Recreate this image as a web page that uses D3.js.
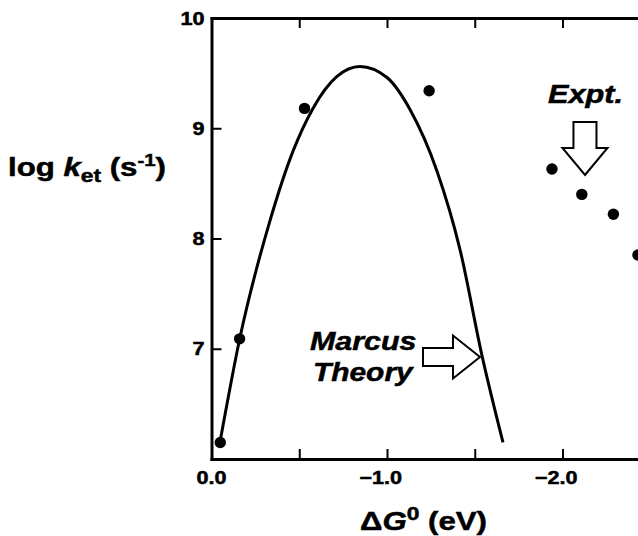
<!DOCTYPE html>
<html lang="en">
<head>
  <meta charset="UTF-8">
  <title>Marcus inverted region</title>
  <script src="https://d3js.org/d3.v7.min.js"></script>
  <style>
    body { margin: 0; background: #fff; }
    svg text { font-family: "Liberation Sans", Arial, sans-serif; font-weight: bold; fill: #000; }
    svg text.heavy { stroke: #000; stroke-width: 0.5px; }
  </style>
</head>
<body>
  <div id="chart"></div>
  <script>
    // measured data points (ΔG0 in eV, log ket)
    const expG   = [-0.05, -0.16, -0.53, -1.24, -1.94, -2.11, -2.29, -2.43];
    const expLog = [6.15, 7.09, 9.18, 9.34, 8.63, 8.40, 8.22, 7.85];

    // Marcus theory curve
    const curveG   = [-0.048, -0.162, -0.333, -0.464, -0.578, -0.715, -0.846,
                      -1.000, -1.131, -1.285, -1.416, -1.541, -1.661];
    const curveLog = [6.15, 7.10, 8.16, 8.79, 9.18, 9.47, 9.56,
                      9.46, 9.17, 8.61, 7.90, 6.94, 6.15];

    const xTicks = [0, -0.5, -1.0, -1.5, -2.0, -2.5];
    const xLabels = [0, -1.0, -2.0];
    const yTicks = [7, 8, 9, 10];

    const W = 638, H = 536;
    const plotL = 211.5, plotT = 18, plotB = 459;

    const svg = d3.select("#chart").append("svg")
      .attr("width", W).attr("height", H);

    const x = d3.scaleLinear().domain([0, -2.6]).range([plotL, plotL + 2.6 * 175.5]);
    const y = d3.scaleLinear().domain([6, 10]).range([plotB, plotT]);
    const sx = 1.2; // glyphs in the picture are stretched sideways

    const fmt = d => d === 0 ? "0.0" : "\u2212" + d3.format(".1f")(-d);

    // bottom axis
    svg.append("g").attr("transform", `translate(0,${plotB})`)
      .call(d3.axisBottom(x).tickValues(xTicks).tickSizeInner(-10).tickSizeOuter(0).tickFormat(""));
    // top axis
    svg.append("g").attr("transform", `translate(0,${plotT})`)
      .call(d3.axisTop(x).tickValues(xTicks).tickSizeInner(-10).tickSizeOuter(0).tickFormat(""));
    // left axis
    svg.append("g").attr("transform", `translate(${plotL},0)`)
      .call(d3.axisLeft(y).tickValues(yTicks).tickSizeInner(-10).tickSizeOuter(0).tickFormat(""));

    svg.selectAll(".domain").attr("stroke", "#000").attr("stroke-width", 3)
      .attr("stroke-linecap", "square");
    svg.selectAll(".tick line").attr("stroke", "#000").attr("stroke-width", 2);

    // x tick labels
    svg.selectAll(".xlab").data(xLabels).enter().append("text")
      .attr("class", "heavy")
      .attr("transform", d => `translate(${x(d) + 15},${plotB + 25}) scale(${sx},1)`)
      .attr("text-anchor", "end")
      .style("font-size", "18px")
      .text(fmt);

    // y tick labels
    svg.selectAll(".ylab").data(yTicks).enter().append("text")
      .attr("class", "heavy")
      .attr("transform", d => `translate(${plotL - 7},${y(d) + 6.5}) scale(${sx},1)`)
      .attr("text-anchor", "end")
      .style("font-size", "18px")
      .text(d => d);

    // curve
    const line = d3.line()
      .x(d => x(d[0])).y(d => y(d[1]))
      .curve(d3.curveMonotoneX);
    svg.append("path")
      .datum(curveG.map((g, i) => [g, curveLog[i]]))
      .attr("d", line)
      .attr("fill", "none").attr("stroke", "#000").attr("stroke-width", 3);

    // points
    svg.selectAll(".pt").data(expG.map((g, i) => [g, expLog[i]])).enter().append("circle")
      .attr("cx", d => x(d[0])).attr("cy", d => y(d[1]))
      .attr("r", 5.7).attr("fill", "#000");

    // axis titles
    const yt = svg.append("text")
      .attr("class", "heavy")
      .attr("transform", `translate(8,176) scale(${sx},1)`)
      .style("font-size", "26px");
    yt.append("tspan").text("log ");
    yt.append("tspan").style("font-style", "italic").text("k");
    yt.append("tspan").attr("dy", 6).style("font-size", "19px").text("et");
    yt.append("tspan").attr("dy", -6).text(" (s");
    yt.append("tspan").attr("dy", -10).style("font-size", "17px").text("-1");
    yt.append("tspan").attr("dy", 10).text(")");

    const xt = svg.append("text")
      .attr("class", "heavy")
      .attr("transform", `translate(360,530) scale(${sx},1)`)
      .style("font-size", "26px");
    xt.append("tspan").text("\u0394");
    xt.append("tspan").style("font-style", "italic").text("G");
    xt.append("tspan").attr("dy", -10).style("font-size", "19px").text("0");
    xt.append("tspan").attr("dy", 10).text(" (eV)");

    // annotations
    const note = (t, px, py, s) => svg.append("text")
      .attr("class", "heavy")
      .attr("transform", `translate(${px},${py}) scale(${s},1)`)
      .style("font-size", "26px").style("font-style", "italic").text(t);
    note("Marcus", 310, 350, 1.17);
    note("Theory", 313, 381, 1.15);
    note("Expt.", 548, 103, 1.18);

    // outline arrows (shaft length, shaft half-width, head half-width, head length)
    function arrow(tipX, tipY, angle, len, sw, hw, hl) {
      const pts = [[0, 0], [-hl, -hw], [-hl, -sw], [-len, -sw], [-len, sw], [-hl, sw], [-hl, hw]];
      svg.append("polygon")
        .attr("points", pts.map(p => p.join(",")).join(" "))
        .attr("transform", `translate(${tipX},${tipY}) rotate(${angle})`)
        .attr("fill", "#fff").attr("stroke", "#000").attr("stroke-width", 2)
        .attr("stroke-linejoin", "miter");
    }
    arrow(x(-1.53), y(6.925), 0, 57, 9, 21.5, 27);
    arrow(x(-2.128), y(8.576), 90, 53, 11.5, 22.5, 27);
  </script>
</body>
</html>
